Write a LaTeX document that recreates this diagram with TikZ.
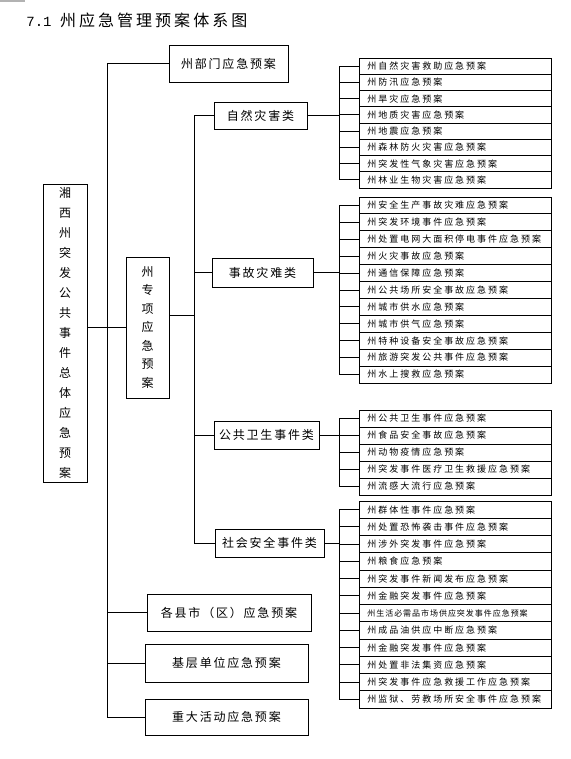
\documentclass[tikz,border=0pt]{standalone}
\usepackage{fontspec}
\newfontfamily\rowf[LetterSpace=22]{Noto Sans CJK SC}
\newfontfamily\smallf[LetterSpace=12]{Noto Sans CJK SC}
\newfontfamily\boxf[LetterSpace=15]{Noto Sans CJK SC}
\newfontfamily\vertf{Noto Sans CJK SC}
\newfontfamily\titlef[LetterSpace=19]{Noto Sans CJK SC}
\newfontfamily\numf{Liberation Mono}
\begin{document}
\begin{tikzpicture}[x=1pt,y=-1pt,line width=0.8pt,
  box/.style={draw,line width=0.9pt,inner sep=0pt,font=\boxf\fontsize{12}{14}\selectfont},
  vbox/.style={draw,line width=0.9pt,inner sep=0pt,align=center,font=\vertf\fontsize{12}{20}\selectfont},
  item/.style={draw,line width=0.8pt,anchor=west,inner xsep=8pt,inner ysep=0pt,text width=176pt,minimum width=192pt,align=left,font=\rowf\fontsize{9}{10}\selectfont}]
\useasboundingbox (0,0) rectangle (570,759);
\fill[gray!60] (0,0) rectangle (25,2);
\node[anchor=west,inner sep=0pt,font=\titlef\fontsize{16}{18}\selectfont] (title) at (26,20) {{\numf\fontsize{14}{18}\selectfont 7.1 }州应急管理预案体系图};
% main boxes
\node[box,minimum width=119pt,minimum height=37pt] (dept) at (228.5,63.5) {州部门应急预案};
\node[vbox,minimum width=44pt,minimum height=298pt] (main) at (65,333) {湘\\西\\州\\突\\发\\公\\共\\事\\件\\总\\体\\应\\急\\预\\案};
\node[vbox,minimum width=43pt,minimum height=141pt,font=\vertf\fontsize{12}{18.5}\selectfont] (zx) at (147.5,327.5) {州\\专\\项\\应\\急\\预\\案};
\node[box,minimum width=93pt,minimum height=27pt] (zr) at (260.5,115.5) {自然灾害类};
\node[box,minimum width=101pt,minimum height=29pt] (sg) at (262.5,272.5) {事故灾难类};
\node[box,minimum width=105pt,minimum height=28pt] (gw) at (266.5,435) {公共卫生事件类};
\node[box,minimum width=109pt,minimum height=28pt] (sh) at (269.5,543) {社会安全事件类};
\node[box,minimum width=164pt,minimum height=37pt] (xs) at (229,612.5) {各县市（区）应急预案};
\node[box,minimum width=163pt,minimum height=38pt] (jc) at (226.5,663) {基层单位应急预案};
\node[box,minimum width=163pt,minimum height=36pt] (zd) at (226.5,717) {重大活动应急预案};
% trunks
\coordinate (T1) at (107,0);
\coordinate (T2) at (194,0);
\coordinate (B) at (339,0);
\coordinate (zxo) at ([yshift=12pt]zx.east);
\draw (dept.west) -| (T1 |- zd.west) -- (zd.west);
\draw (T1 |- xs.west) -- (xs.west);
\draw (T1 |- jc.west) -- (jc.west);
\draw (main.east |- zx.west) -- (zx.west);
\draw (zr.west) -| (T2 |- sh.west) -- (sh.west);
\draw (zxo) -- (T2 |- zxo);
\draw (T2 |- sg.west) -- (sg.west);
\draw (T2 |- gw.west) -- (gw.west);
% group 1
\foreach \t [count=\i] in {州自然灾害救助应急预案,州防汛应急预案,州旱灾应急预案,州地质灾害应急预案,州地震应急预案,州森林防火灾害应急预案,州突发性气象灾害应急预案,州林业生物灾害应急预案}{
  \node[item,minimum height=16.25pt] (a\i) at (359,{58+16.25*(\i-0.5)}) {\t};
  \coordinate (ca\i) at (B |- a\i.west);
  \draw (ca\i) -- (a\i.west);
}
\draw (ca1) -- (ca8);
\draw (zr.east) -- (B |- zr.east);
% group 2
\foreach \t [count=\i] in {州安全生产事故灾难应急预案,州突发环境事件应急预案,州处置电网大面积停电事件应急预案,州火灾事故应急预案,州通信保障应急预案,州公共场所安全事故应急预案,州城市供水应急预案,州城市供气应急预案,州特种设备安全事故应急预案,州旅游突发公共事件应急预案,州水上搜救应急预案}{
  \node[item,minimum height=16.9pt] (b\i) at (359,{197+16.9*(\i-0.5)}) {\t};
  \coordinate (cb\i) at (B |- b\i.west);
  \draw (cb\i) -- (b\i.west);
}
\draw (cb1) -- (cb11);
\draw (sg.east) -- (B |- sg.east);
% group 3
\foreach \t [count=\i] in {州公共卫生事件应急预案,州食品安全事故应急预案,州动物疫情应急预案,州突发事件医疗卫生救援应急预案,州流感大流行应急预案}{
  \node[item,minimum height=17pt] (c\i) at (359,{410+17*(\i-0.5)}) {\t};
  \coordinate (cc\i) at (B |- c\i.west);
  \draw (cc\i) -- (c\i.west);
}
\draw (cc1) -- (cc5);
\draw (gw.east) -- (B |- gw.east);
% group 4
\foreach \t [count=\i] in {州群体性事件应急预案,州处置恐怖袭击事件应急预案,州涉外突发事件应急预案,州粮食应急预案,州突发事件新闻发布应急预案,州金融突发事件应急预案,{\smallf\fontsize{8}{9}\selectfont 州生活必需品市场供应突发事件应急预案},州成品油供应中断应急预案,州金融突发事件应急预案,州处置非法集资应急预案,州突发事件应急救援工作应急预案,州监狱、劳教场所安全事件应急预案}{
  \node[item,minimum height=17.25pt] (d\i) at (359,{501+17.25*(\i-0.5)}) {\t};
  \coordinate (cd\i) at (B |- d\i.west);
  \draw (cd\i) -- (d\i.west);
}
\draw (cd1) -- (cd12);
\draw (sh.east) -- (B |- sh.east);
\end{tikzpicture}
\end{document}
